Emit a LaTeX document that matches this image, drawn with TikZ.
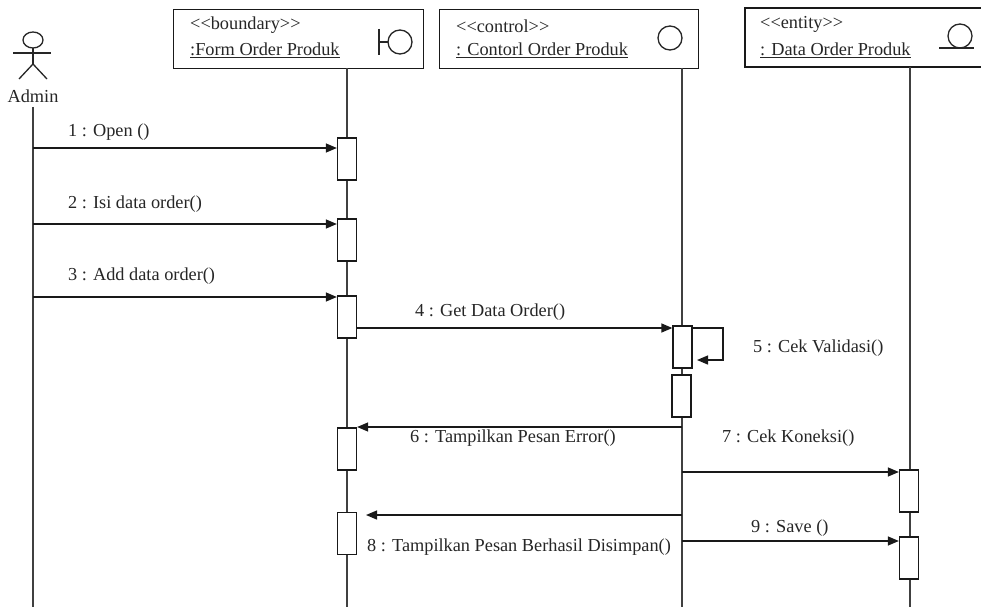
\documentclass[tikz,border=0pt]{standalone}
\usepackage{fontspec}
\setmainfont{Liberation Serif}
\usetikzlibrary{arrows.meta}
\tikzset{
  ln/.style={line width=1.3pt, draw=black!85},
  lifeline/.style={line width=1.3pt, draw=black!75},
  objbox/.style={draw=black!90, line width=1.3pt, fill=white, inner sep=0pt, anchor=north west},
  actbox/.style={draw=black!90, line width=1.3pt, fill=white, minimum width=19pt, minimum height=42pt, inner sep=0pt},
  msg/.style={line width=1.3pt, draw=black!90, -{Triangle[length=11pt,width=9pt]}},
  lbl/.style={anchor=west, inner sep=0pt, text=black!85},
}
\begin{document}
\begin{tikzpicture}[x=1pt,y=-1pt,font=\fontsize{18.3}{20}\selectfont]
\useasboundingbox[fill=white] (0,0) rectangle (981,607);

% ---- actor
\draw[ln] (33,40) ellipse [x radius=10, y radius=8];
\draw[ln] (33,48) -- (33,64);
\draw[ln] (13,53) -- (51,53);
\draw[ln] (33,64) -- (19,79);
\draw[ln] (33,64) -- (47,79);
\node[inner sep=0pt, text=black!85] (admin) at (33,96) {Admin};
\coordinate (adminTop) at (33,107);
\coordinate (adminEnd) at (33,607);

% ---- object boxes
\node[objbox, minimum width=250pt, minimum height=59pt] (bnd) at (173,9) {};
\node[objbox, minimum width=259pt, minimum height=59pt] (ctl) at (439,9) {};
\draw[line width=1.3pt, draw=black!90] (990,8) -- (745,8) -- (745,67) -- (990,67);
\coordinate (ent) at (910,67);

\node[lbl] (bndst) at (190,25) {{<}{<}boundary{>}{>}};
\node[lbl] (bndnm) at (190,50) {\underline{:Form Order Produk}};
\node[lbl] (ctlst) at (456,26) {{<}{<}control{>}{>}};
\node[lbl] (ctlnm) at (456,50) {\underline{: Contorl Order Produk}};
\node[lbl] (entst) at (760,24) {{<}{<}entity{>}{>}};
\node[lbl] (entnm) at (760,50) {\underline{: Data Order Produk}};

% icons
\draw[ln] (379,29) -- (379,55);
\draw[ln] (379,42) -- (388,42);
\draw[ln] (400,42) circle [radius=12];
\draw[ln] (670,38) circle [radius=12];
\draw[ln] (960,36) circle [radius=12];
\draw[ln] (939,48) -- (974,48);

% ---- lifelines
\coordinate (bndEnd) at (347,607);
\coordinate (ctlEnd) at (682,607);
\coordinate (entEnd) at (910,607);
\draw[lifeline] (adminTop) -- (adminEnd);
\draw[lifeline] (347,68) -- (bndEnd);
\draw[lifeline] (682,68) -- (ctlEnd);
\draw[lifeline] (ent) -- (entEnd);

% ---- activations
\node[actbox] (act1) at (347,159) {};
\node[actbox] (act2) at (347,240) {};
\node[actbox] (act3) at (347,317) {};
\node[actbox] (act4) at (682.5,347) {};
\node[actbox] (act5) at (681.5,396) {};
\node[actbox] (act6) at (347,449) {};
\node[actbox] (act8) at (347,533.5) {};
\node[actbox] (act7) at (909,491) {};
\node[actbox] (act9) at (909,558) {};

% ---- messages
\coordinate (m1) at (33,148);
\coordinate (m2) at (33,224);
\coordinate (m3) at (33,297);
\draw[msg] (m1) -- (act1.west |- m1);
\draw[msg] (m2) -- (act2.west |- m2);
\draw[msg] (m3) -- (act3.west |- m3);

\coordinate (m4) at (356.5,328);
\draw[msg] (m4) -- (act4.west |- m4);

\coordinate (s1) at (723,328);
\coordinate (s2) at (723,360);
\coordinate (s3) at (697,360);
\draw[msg] (act4.east |- s1) -- (s1) -- (s2) -- (s3);

\coordinate (m6) at (682,427);
\draw[msg] (m6) -- (act6.east |- m6);

\coordinate (m7) at (682,472);
\draw[msg] (m7) -- (act7.west |- m7);

\coordinate (m8) at (682,515);
\coordinate (m8e) at (366,515);
\draw[msg] (m8) -- (m8e);

\coordinate (m9) at (682,541);
\draw[msg] (m9) -- (act9.west |- m9);

% ---- labels
\node[lbl] (l1) at (68,132) {1 : Open ()};
\node[lbl] (l2) at (68,204) {2 : Isi data order()};
\node[lbl] (l3) at (68,276) {3 : Add data order()};
\node[lbl] (l4) at (415,312) {4 : Get Data Order()};
\node[lbl] (l5) at (753,348) {5 : Cek Validasi()};
\node[lbl] (l6) at (410,438) {6 : Tampilkan Pesan Error()};
\node[lbl] (l7) at (722,438) {7 : Cek Koneksi()};
\node[lbl] (l8) at (367,547) {8 : Tampilkan Pesan Berhasil Disimpan()};
\node[lbl] (l9) at (751,528) {9 : Save ()};
\end{tikzpicture}
\end{document}
